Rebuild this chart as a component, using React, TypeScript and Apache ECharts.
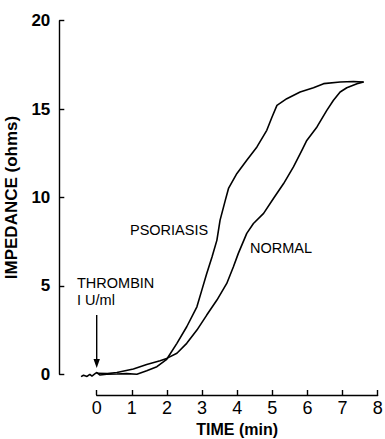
import React, { useEffect, useRef } from "react";
import * as echarts from "echarts";

const psoriasisX = [-0.45, -0.38, -0.28, -0.2, -0.14, -0.06, 0, 0.09, 0.28, 0.57, 0.85, 1.14, 1.42, 1.71, 1.99, 2.28, 2.56, 2.85, 2.99, 3.13, 3.28, 3.42, 3.51, 3.66, 3.75, 3.99, 4.27, 4.56, 4.84, 4.99, 5.13, 5.41, 5.79, 6.17, 6.46, 6.93, 7.31, 7.6];
const psoriasisY = [-0.13, -0.05, -0.12, 0.0, -0.1, 0.02, 0.1, -0.04, 0.0, 0.02, 0.04, 0.0, 0.2, 0.43, 0.85, 1.75, 2.69, 3.82, 4.76, 5.7, 6.64, 7.59, 8.72, 9.85, 10.51, 11.36, 12.11, 12.86, 13.8, 14.55, 15.21, 15.59, 15.97, 16.21, 16.44, 16.53, 16.56, 16.53];

const normalX = [0, 0.3, 0.57, 1.04, 1.42, 1.8, 1.99, 2.28, 2.56, 2.85, 3.13, 3.42, 3.7, 3.89, 4.03, 4.27, 4.46, 4.75, 5.03, 5.32, 5.6, 5.84, 5.98, 6.27, 6.55, 6.74, 6.93, 7.12, 7.41, 7.6];
const normalY = [0.06, 0.04, 0.1, 0.3, 0.55, 0.77, 0.9, 1.19, 1.75, 2.5, 3.35, 4.2, 5.14, 6.08, 6.84, 7.97, 8.53, 9.1, 9.94, 10.79, 11.73, 12.67, 13.23, 13.99, 14.93, 15.5, 15.97, 16.21, 16.44, 16.53];

const xTicks = [0, 8];
const yTicks = [0, 20];

const FONT = "Liberation Sans";

export default function App() {
  const ref = useRef<HTMLDivElement>(null);
  useEffect(() => {
    if (!ref.current) return;
    const chart = echarts.init(ref.current, null, { renderer: "svg" });
    const pData = psoriasisX.map((x, i) => [x, psoriasisY[i]]);
    const nData = normalX.map((x, i) => [x, normalY[i]]);
    chart.setOption({
      animation: false,
      backgroundColor: "#ffffff",
      textStyle: { fontFamily: FONT },
      grid: [
        { left: 59.3, right: 7.3, top: 20.7, bottom: 64.7, outerBoundsMode: "none", containLabel: false },
        { left: 96.7, right: 7.3, top: 380, bottom: 44, outerBoundsMode: "none", containLabel: false },
      ],
      xAxis: [
        { gridIndex: 0, type: "value", min: -1.07, max: xTicks[1], show: false },
        {
          gridIndex: 1,
          type: "value",
          min: xTicks[0],
          max: xTicks[1],
          interval: 1,
          position: "bottom",
          axisLine: { show: true, onZero: false, lineStyle: { color: "#000", width: 1.4 } },
          axisTick: { show: true, inside: true, length: 5, lineStyle: { color: "#000", width: 1.4 } },
          splitLine: { show: false },
          axisLabel: { color: "#000", fontSize: 18, margin: 4, fontFamily: FONT, showMaxLabel: true },
          name: "TIME (min)",
          nameLocation: "middle",
          nameGap: 26,
          nameTextStyle: { color: "#000", fontSize: 16, fontWeight: "bold", fontFamily: FONT },
        },
      ],
      yAxis: [
        {
          gridIndex: 0,
          type: "value",
          min: yTicks[0],
          max: yTicks[1],
          interval: 5,
          axisLine: { show: true, onZero: false, lineStyle: { color: "#000", width: 1.4 } },
          axisTick: { show: true, inside: true, length: 5, lineStyle: { color: "#000", width: 1.4 } },
          splitLine: { show: false },
          axisLabel: { color: "#000", fontSize: 17, fontWeight: "bold", margin: 9, fontFamily: FONT },
          name: "IMPEDANCE (ohms)",
          nameLocation: "middle",
          nameRotate: 90,
          nameGap: 34,
          nameTextStyle: { color: "#000", fontSize: 17, fontWeight: "bold", fontFamily: FONT },
        },
        { gridIndex: 1, type: "value", min: 0, max: 1, show: false },
      ],
      series: [
        {
          name: "PSORIASIS",
          type: "line",
          xAxisIndex: 0,
          yAxisIndex: 0,
          data: pData,
          showSymbol: false,
          symbol: "none",
          clip: false,
          lineStyle: { color: "#000", width: 1.6 },
        },
        {
          name: "NORMAL",
          type: "line",
          xAxisIndex: 0,
          yAxisIndex: 0,
          data: nData,
          showSymbol: false,
          symbol: "none",
          clip: false,
          lineStyle: { color: "#000", width: 1.6 },
        },
      ],
      graphic: [
        { type: "text", left: 130, top: 222, style: { text: "PSORIASIS", fill: "#000", font: `14.5px '${FONT}'` } },
        { type: "text", left: 250, top: 240, style: { text: "NORMAL", fill: "#000", font: `14.5px '${FONT}'` } },
        { type: "text", left: 77, top: 275, style: { text: "THROMBIN", fill: "#000", font: `14.5px '${FONT}'` } },
        { type: "text", left: 77, top: 292, style: { text: "I U/ml", fill: "#000", font: `14.5px '${FONT}'` } },
        { type: "line", shape: { x1: 96.7, y1: 315, x2: 96.7, y2: 362 }, style: { stroke: "#000", lineWidth: 1.4 } },
        { type: "polygon", shape: { points: [[93.5, 359], [99.9, 359], [96.7, 368]] }, style: { fill: "#000" } },
      ],
    });
    return () => chart.dispose();
  }, []);
  return <div ref={ref} style={{ position: "fixed", left: 0, top: 0, width: 385, height: 439 }} />;
}
